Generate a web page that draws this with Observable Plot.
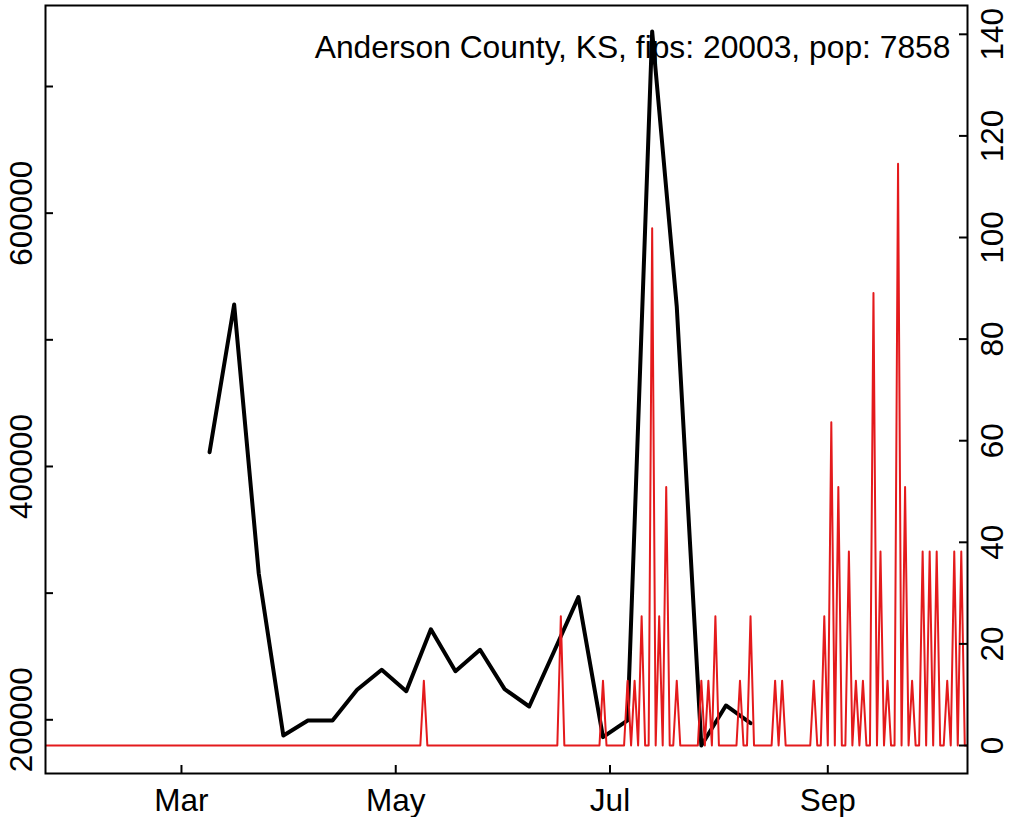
<!DOCTYPE html>
<html>
<head>
<meta charset="utf-8">
<script src="https://cdn.jsdelivr.net/npm/d3@7"></script>
<script src="https://cdn.jsdelivr.net/npm/@observablehq/plot@0.6"></script>
<style>
  html, body { margin: 0; padding: 0; background: #ffffff; }
  #chart { width: 1010px; height: 817px; }
</style>
</head>
<body>
<div id="chart"></div>
<script>
// ---------- data ----------
const titleText = "Anderson County, KS, fips: 20003, pop: 7858";

// weekly series (left axis)
const weekDates = [
  "2020-03-09","2020-03-16","2020-03-23","2020-03-30","2020-04-06","2020-04-13",
  "2020-04-20","2020-04-27","2020-05-04","2020-05-11","2020-05-18","2020-05-25",
  "2020-06-01","2020-06-08","2020-06-15","2020-06-22","2020-06-29","2020-07-06",
  "2020-07-13","2020-07-20","2020-07-27","2020-08-03","2020-08-10"
];
const weekValues = [
  411300, 527900, 315500, 187600, 199500, 199500,
  223700, 239500, 222600, 271500, 238400, 255300,
  224200, 210500, 253500, 296800, 186300, 199500,
  743500, 526300, 179700, 211300, 197300
];

// daily series (right axis): days with a non-zero value; all other days read as 0
const dailyStart = "2020-01-22";
const dailyEnd = "2020-10-11";
const spikeDates = [
  "2020-05-09","2020-06-17","2020-06-29","2020-07-06","2020-07-08","2020-07-10",
  "2020-07-13","2020-07-15","2020-07-17","2020-07-20","2020-07-27","2020-07-29",
  "2020-07-31","2020-08-07","2020-08-10","2020-08-17","2020-08-19","2020-08-28",
  "2020-08-31","2020-09-02","2020-09-04","2020-09-07","2020-09-09","2020-09-11",
  "2020-09-14","2020-09-16","2020-09-18","2020-09-21","2020-09-23","2020-09-25",
  "2020-09-28","2020-09-30","2020-10-02","2020-10-05","2020-10-07","2020-10-09"
];
const spikeValues = [
  12.73, 25.45, 12.73, 12.73, 12.73, 25.45,
  101.81, 25.45, 50.90, 12.73, 12.73, 12.73,
  25.45, 12.73, 25.45, 12.73, 12.73, 12.73,
  25.45, 63.63, 50.90, 38.18, 12.73, 12.73,
  89.08, 38.18, 12.73, 114.53, 50.90, 12.73,
  38.18, 38.18, 38.18, 12.73, 38.18, 38.18
];

// axes
const leftTicks = [200000, 300000, 400000, 500000, 600000, 700000];
const leftLabels = [200000, 400000, 600000];
const rightTicks = [0, 20, 40, 60, 80, 100, 120, 140];
const monthTicks = ["2020-03-01","2020-05-01","2020-07-01","2020-09-01"];
const monthLabels = ["Mar","May","Jul","Sep"];

// ---------- build tables ----------
const parse = s => new Date(s + "T00:00:00Z");
const weekly = weekDates.map((d, i) => ({date: parse(d), value: weekValues[i]}));
const spikeMap = new Map(spikeDates.map((d, i) => [d, spikeValues[i]]));
const daily = d3.utcDays(parse(dailyStart), d3.utcDay.offset(parse(dailyEnd), 1))
  .map(d => ({date: d, value: spikeMap.get(d3.utcFormat("%Y-%m-%d")(d)) ?? 0}));
const months = monthTicks.map((d, i) => ({date: parse(d), label: monthLabels[i]}));

// ---------- layout ----------
const W = 1010, H = 817;
const mL = 45, mR = 43, mT = 5, mB = 44;
const plotW = W - mL - mR;
const plotH = H - mT - mB;
const FS = 31.5;
const FONT = "'Liberation Sans', Arial, Helvetica, sans-serif";

const xDomain = [new Date(Date.UTC(2020, 0, 22, 7)), new Date(Date.UTC(2020, 9, 10, 18, 30))];
const leftDomain = [157600, 763950];
const rightDomain = [-5.51, 145.67];
const toLeft = v => leftDomain[0] + (v - rightDomain[0]) / (rightDomain[1] - rightDomain[0]) * (leftDomain[1] - leftDomain[0]);

const chart = Plot.plot({
  width: W,
  height: H,
  marginLeft: mL,
  marginRight: mR,
  marginTop: mT,
  marginBottom: mB,
  style: {fontFamily: FONT, fontSize: FS + "px", background: "#ffffff", color: "black", overflow: "visible"},
  x: {type: "utc", domain: xDomain, axis: null},
  y: {domain: leftDomain, axis: null},
  marks: [
    Plot.lineY(weekly, {x: "date", y: "value", stroke: "black", strokeWidth: 4, clip: true}),
    Plot.lineY(daily, {x: "date", y: d => toLeft(d.value), stroke: "#E41A1C", strokeWidth: 2, clip: true}),
    Plot.frame({stroke: "black", strokeWidth: 2}),
    // left axis ticks (inward) + labels
    Plot.tickY(leftTicks, {y: d => d, insetRight: plotW - 8, stroke: "black", strokeWidth: 2}),
    Plot.text(leftLabels, {y: d => d, text: d => String(d), frameAnchor: "left", dx: -23.5, rotate: -90,
      textAnchor: "middle", lineAnchor: "middle", fontSize: FS, fill: "black"}),
    // right axis ticks (inward) + labels
    Plot.tickY(rightTicks, {y: d => toLeft(d), insetLeft: plotW - 8, stroke: "black", strokeWidth: 2}),
    Plot.text(rightTicks, {y: d => toLeft(d), text: d => String(d), frameAnchor: "right", dx: 25, rotate: -90,
      textAnchor: "middle", lineAnchor: "middle", fontSize: FS, fill: "black"}),
    // bottom axis ticks (inward) + labels
    Plot.tickX(months, {x: "date", insetTop: plotH - 8, stroke: "black", strokeWidth: 2}),
    Plot.text(months, {x: "date", text: "label", frameAnchor: "bottom", dy: 27,
      textAnchor: "middle", lineAnchor: "middle", fontSize: FS, fill: "black"}),
    // title
    Plot.text([titleText], {text: d => d, frameAnchor: "top-right", dx: -17, dy: 42,
      textAnchor: "end", lineAnchor: "middle", fontSize: 31.8, fill: "black"})
  ]
});
document.getElementById("chart").appendChild(chart);
</script>
</body>
</html>
